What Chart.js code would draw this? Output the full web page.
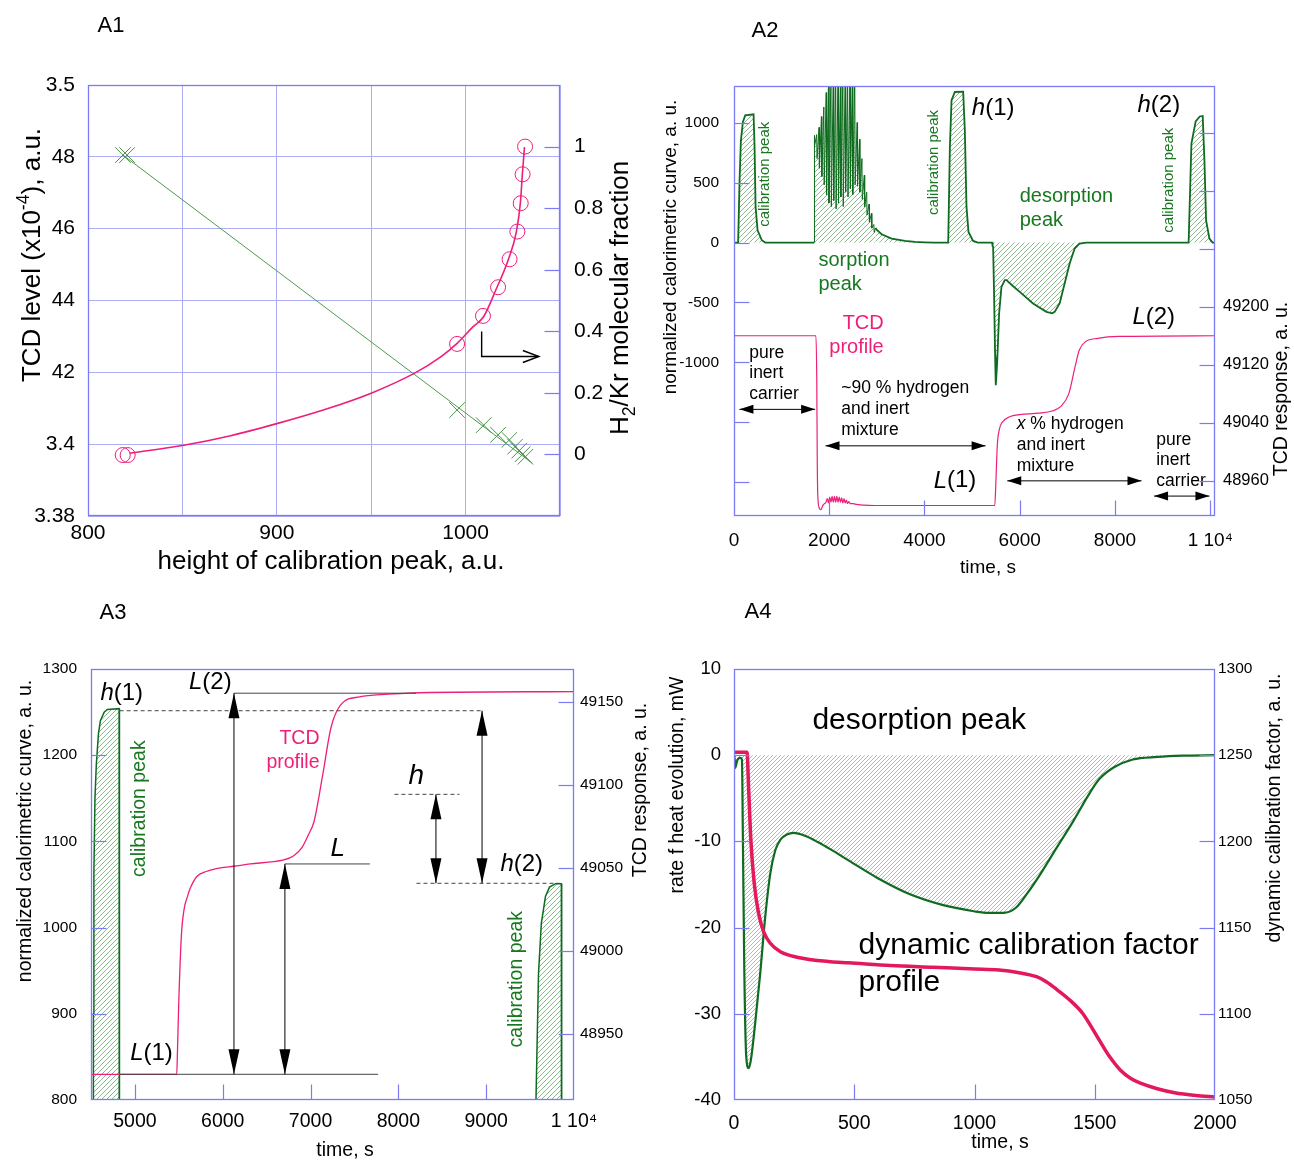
<!DOCTYPE html>
<html>
<head>
<meta charset="utf-8">
<script src="https://cdn.jsdelivr.net/npm/chart.js@4.4.1/dist/chart.umd.min.js"></script>
<style>
  body { margin: 0; background: #fff; width: 1294px; height: 1162px; position: relative; overflow: hidden; }
  canvas { position: absolute; }
</style>
</head>
<body>
<canvas id="a1" width="647" height="581" style="left:0;top:0;width:647px;height:581px"></canvas>
<canvas id="a2" width="647" height="581" style="left:647px;top:0;width:647px;height:581px"></canvas>
<canvas id="a3" width="660" height="581" style="left:0;top:581px;width:660px;height:581px"></canvas>
<canvas id="a4" width="647" height="581" style="left:647px;top:581px;width:647px;height:581px"></canvas>
<script>
const FAM = '"Liberation Sans", Arial, sans-serif';
const GREEN = '#0f6b1f';
const GREEN_TXT = '#17781f';
const PINK = '#ee1f78';
const PINK4 = '#e3195c';
const BLUE = '#7b7bf3';
const GRID = '#aeaef6';
const HATCH = 'rgba(40,130,45,0.55)';

// ---------- A1: calibration ----------
const a1PeakHeight = [818.5, 820.7, 995.5, 1009.6, 1017.2, 1023.2, 1026.2, 1028.4, 1030.2, 1031.7];
const a1TcdLevel = [3.4805, 3.4805, 3.4095, 3.4053, 3.4026, 3.4012, 3.3993, 3.3982, 3.3972, 3.3965];
const a1FitLine = [[818.5, 3.4805], [1035.3, 3.3947]];
const a1CircleHeight = [818.4, 821, 995.5, 1009.2, 1017.2, 1023.3, 1027.4, 1029.2, 1030.2, 1031.5];
const a1Fraction = [-0.002, -0.002, 0.359, 0.45, 0.543, 0.634, 0.724, 0.816, 0.91, 1.0];
const a1FractionCurve = [[822, 0.004], [850, 0.029], [875, 0.06], [900, 0.10], [925, 0.145], [950, 0.199],
  [973, 0.264], [987, 0.318], [995.5, 0.361], [1004, 0.415], [1009.6, 0.448], [1016, 0.534],
  [1022.6, 0.632], [1026.9, 0.724], [1029, 0.816], [1030.1, 0.913], [1031.2, 0.998]];
const a1XTicks = [800, 850, 900, 950, 1000, 1050];
const a1XLabels = ['800', '', '900', '', '1000', ''];
const a1LeftTicks = [3.38, 3.40, 3.42, 3.44, 3.46, 3.48, 3.50];
const a1LeftLabels = ['3.38', '3.4', '42', '44', '46', '48', '3.5'];
const a1RightTicks = [0, 0.2, 0.4, 0.6, 0.8, 1];
const a1RightLabels = ['0', '0.2', '0.4', '0.6', '0.8', '1'];

// ---------- A2: full experiment ----------
const a2Calorimetric = [
  [0, 0], [87, 0], [117, 519], [145, 852], [187, 1005], [236, 1061], [411, 1069], [432, 797], [453, 297],
  [495, 102], [585, 19], [655, 0], [1683, 0],
  // sorption peak (spiky signal)
  [1686, 894], [1694, 800], [1736, 900], [1744, 700], [1786, 960], [1794, 620], [1836, 1050], [1844, 550],
  [1886, 1130], [1894, 480], [1936, 1250], [1944, 400], [1986, 1400], [1994, 330], [2036, 1400], [2044, 300],
  [2086, 1400], [2094, 350], [2136, 1400], [2144, 280], [2186, 1400], [2194, 330], [2236, 1400], [2244, 380],
  [2286, 1400], [2294, 300], [2336, 1400], [2344, 420], [2386, 1400], [2394, 380], [2436, 1400], [2444, 450],
  [2486, 1400], [2494, 400], [2536, 1400], [2544, 480], [2586, 1000], [2594, 470], [2636, 860], [2644, 420],
  [2686, 700], [2694, 360], [2736, 561], [2744, 300], [2786, 420], [2794, 230], [2836, 320], [2844, 170],
  [2886, 244], [2894, 120], [2936, 150], [2944, 85], [2970, 120], [3000, 105], [3100, 69],
  [3310, 33], [3590, 13], [3800, 5], [4000, 2], [4200, 0],
  // second calibration peak h(1)
  [4498, 0], [4533, 797], [4568, 1186], [4638, 1255], [4812, 1258], [4847, 936], [4882, 297], [4924, 88],
  [5021, 13], [5120, 0],
  // desorption peak
  [5420, 0], [5430, -30], [5441, -36], [5462, -453], [5483, -953], [5497, -1189], [5525, -1008], [5567, -592],
  [5616, -370], [5686, -314], [5721, -314], [5850, -360], [6000, -411], [6279, -508], [6559, -578], [6680, -590],
  [6733, -578], [6838, -508], [6943, -342], [7048, -175], [7153, -50], [7258, -8], [7399, 0],
  // third calibration peak h(2)
  [9546, 0], [9605, 825], [9694, 1010], [9781, 1051], [9842, 1055], [9878, 685], [9913, 185], [9983, 33],
  [10050, 0], [10100, 0]
];
const a2Tcd = [
  [0, 49160], [1720, 49160], [1738, 49100], [1748, 48990], [1759, 48940], [1790, 48922], [1822, 48919.6],
  [1870, 48926], [1930, 48930], [1960, 48935], [1985, 48929], [2010, 48937], [2035, 48930], [2060, 48938],
  [2085, 48930], [2110, 48938], [2135, 48930], [2160, 48938], [2185, 48930], [2210, 48937], [2235, 48930],
  [2260, 48936], [2285, 48929], [2310, 48935], [2335, 48929], [2360, 48933], [2385, 48928], [2410, 48931],
  [2440, 48928], [2500, 48928], [2577, 48927], [2717, 48926], [2950, 48925.5], [5476, 48925.5],
  [5500, 48960], [5530, 49010], [5570, 49030], [5616, 49039], [5790, 49048], [6000, 49051], [6400, 49053],
  [6681, 49056], [6856, 49062], [7031, 49080], [7161, 49117], [7249, 49140], [7379, 49151.7], [7641, 49156.4],
  [8079, 49159], [10100, 49160]
];
const a2XTicks = [0, 2000, 4000, 6000, 8000, 10000];
const a2XLabels = ['0', '2000', '4000', '6000', '8000', '1 10\u2074'];
const a2LeftTicks = [-1000, -500, 0, 500, 1000];
const a2LeftLabels = ['-1000', '-500', '0', '500', '1000'];
const a2RightTicks = [48960, 49040, 49120, 49200];
const a2RightLabels = ['48960', '49040', '49120', '49200'];

// ---------- A3: zoom on desorption ----------
const a3CalPeak1 = [[4522, 0], [4528, 900], [4533, 1063], [4545, 1150], [4561, 1190], [4585, 1225], [4607, 1240],
  [4650, 1250], [4686, 1253], [4820, 1254], [4824, 0]];
const a3CalPeak2 = [[9560, 0], [9567, 800], [9596, 947], [9628, 1005], [9675, 1036], [9721, 1047], [9791, 1051],
  [9856, 1051], [9860, 0]];
const a3Tcd = [
  [4500, 48925.5], [5476, 48925.5], [5485, 48940], [5500, 48970], [5530, 49010], [5560, 49025], [5600, 49033],
  [5632, 49038], [5708, 49045], [5822, 49048], [5974, 49050], [6125, 49051], [6315, 49052.4], [6543, 49053.6],
  [6695, 49054.8], [6809, 49057.4], [6904, 49062.4], [6980, 49070.5], [7040, 49078], [7140, 49106.6],
  [7233, 49134.7], [7350, 49148.8], [7559, 49153.2], [7885, 49154.8], [8112, 49155.5], [10000, 49156.4]
];
const a3XTicks = [5000, 6000, 7000, 8000, 9000, 10000];
const a3XLabels = ['5000', '6000', '7000', '8000', '9000', '1 10\u2074'];
const a3LeftTicks = [800, 900, 1000, 1100, 1200, 1300];
const a3LeftLabels = ['800', '900', '1000', '1100', '1200', '1300'];
const a3RightTicks = [48950, 49000, 49050, 49100, 49150];
const a3RightLabels = ['48950', '49000', '49050', '49100', '49150'];
const a3Levels = { L1: 48925.5, L: 49052.4, L2: 49155.4, h1: 1251.6, h: 1154.6, h2: 1051.4 };

// ---------- A4: dynamic calibration ----------
const a4Heat = [
  [0, 0], [3, -0.5], [5, -1.5], [10, -1.0], [15, -0.5], [26, -0.3], [33, -0.5], [37, -9.8], [43, -25.3],
  [51, -35], [61, -36.3], [70, -35.4], [88, -31.1], [109, -25.3], [130, -18.7], [151, -13.7], [172, -11],
  [193, -9.8], [220, -9.2], [248, -9.0], [300, -9.4], [350, -10.1], [400, -10.9], [476, -12.2], [600, -14.3],
  [737, -16.2], [870, -17.4], [997, -18.1], [1060, -18.3], [1120, -18.3], [1172, -17.7], [1220, -16],
  [1276, -13.7], [1340, -10.8], [1414, -7.5], [1470, -4.8], [1518, -2.8], [1580, -1.4], [1658, -0.5],
  [1760, -0.2], [1866, -0.05], [2000, 0]
];
const a4Factor = [
  [0, 1251.7], [54, 1251.7], [61, 1230], [70, 1201], [84, 1175.8], [102, 1158.4], [123, 1147.7], [151, 1140.9],
  [193, 1136], [262, 1132.8], [401, 1130.2], [476, 1129.6], [650, 1128], [825, 1127], [1000, 1126],
  [1102, 1125.4], [1180, 1124], [1258, 1121.5], [1300, 1118.5], [1345, 1113.8], [1400, 1107.5], [1450, 1100.2],
  [1519, 1084.7], [1560, 1075.5], [1607, 1067.3], [1650, 1062.5], [1693, 1059.6], [1760, 1056.5],
  [1832, 1054.2], [1920, 1052.6], [2000, 1051.7]
];
const a4XTicks = [0, 500, 1000, 1500, 2000];
const a4XLabels = ['0', '500', '1000', '1500', '2000'];
const a4LeftTicks = [-40, -30, -20, -10, 0, 10];
const a4LeftLabels = ['-40', '-30', '-20', '-10', '0', '10'];
const a4RightTicks = [1050, 1100, 1150, 1200, 1250, 1300];
const a4RightLabels = ['1050', '1100', '1150', '1200', '1250', '1300'];

// ---------- helpers ----------
const xy = arr => arr.map(([x, y]) => ({ x, y }));
const zip = (xs, ys) => xs.map((x, i) => ({ x, y: ys[i] }));

function hatch(id, gap, color) {
  const c = document.createElement('canvas');
  c.width = gap; c.height = gap;
  const g = c.getContext('2d');
  g.strokeStyle = color; g.lineWidth = 1;
  g.beginPath();
  g.moveTo(0, gap); g.lineTo(gap, 0);
  g.moveTo(-gap / 2, gap / 2); g.lineTo(gap / 2, -gap / 2);
  g.moveTo(gap / 2, gap * 1.5); g.lineTo(gap * 1.5, gap / 2);
  g.stroke();
  return document.getElementById(id).getContext('2d').createPattern(c, 'repeat');
}

// text made of runs: [text, style] with style '', 'i', 'sup', 'sub'
function rich(ctx, text, x, y, size, color, align, rot) {
  const segs = typeof text === 'string' ? [[text, '']] : text;
  ctx.save();
  ctx.translate(x, y);
  if (rot) ctx.rotate(rot * Math.PI / 180);
  ctx.fillStyle = color || '#000';
  ctx.textBaseline = 'middle';
  ctx.textAlign = 'left';
  const parts = segs.map(([t, st]) => {
    const small = st === 'sup' || st === 'sub';
    const f = (st === 'i' ? 'italic ' : '') + (small ? size * 0.68 : size) + 'px ' + FAM;
    ctx.font = f;
    return { t, f, w: ctx.measureText(t).width, dy: st === 'sup' ? -size * 0.36 : st === 'sub' ? size * 0.34 : 0 };
  });
  const total = parts.reduce((s, p) => s + p.w, 0);
  let cx = align === 'left' ? 0 : align === 'right' ? -total : -total / 2;
  parts.forEach(p => { ctx.font = p.f; ctx.fillText(p.t, cx, p.dy); cx += p.w; });
  ctx.restore();
}

function head(ctx, x, y, ang, len, hw) {
  const c = Math.cos(ang), s = Math.sin(ang);
  ctx.beginPath();
  ctx.moveTo(x, y);
  ctx.lineTo(x - len * c + hw * s, y - len * s - hw * c);
  ctx.lineTo(x - len * c - hw * s, y - len * s + hw * c);
  ctx.closePath();
  ctx.fill();
}

function makeDecor(spec) {
  return {
    id: 'decor',
    afterDatasetsDraw(chart) {
      const ctx = chart.ctx, sc = chart.scales;
      const px = (p, ax) => [sc.x.getPixelForValue(p[0]), sc[ax || 'y'].getPixelForValue(p[1])];
      ctx.save();
      (spec.lines || []).forEach(l => {
        ctx.strokeStyle = l.color || '#444';
        ctx.lineWidth = l.width || 1;
        ctx.setLineDash(l.dash || []);
        ctx.beginPath();
        const p = l.pts.map(q => px(q, l.ax));
        p.forEach(([x, y], i) => i ? ctx.lineTo(x, y) : ctx.moveTo(x, y));
        ctx.stroke();
        ctx.setLineDash([]);
        if (l.chevron) {
          const [x1, y1] = p[p.length - 2], [x2, y2] = p[p.length - 1];
          const a = Math.atan2(y2 - y1, x2 - x1);
          ctx.beginPath();
          ctx.moveTo(x2 - 16 * Math.cos(a) + 6 * Math.sin(a), y2 - 16 * Math.sin(a) - 6 * Math.cos(a));
          ctx.lineTo(x2, y2);
          ctx.lineTo(x2 - 16 * Math.cos(a) - 6 * Math.sin(a), y2 - 16 * Math.sin(a) + 6 * Math.cos(a));
          ctx.stroke();
        }
      });
      (spec.arrows || []).forEach(a => {
        const [x1, y1] = px(a.from, a.ax), [x2, y2] = px(a.to, a.ax);
        ctx.strokeStyle = '#000'; ctx.fillStyle = '#000'; ctx.lineWidth = 1;
        ctx.beginPath(); ctx.moveTo(x1, y1); ctx.lineTo(x2, y2); ctx.stroke();
        const ang = Math.atan2(y2 - y1, x2 - x1);
        head(ctx, x2, y2, ang, a.len, a.hw);
        head(ctx, x1, y1, ang + Math.PI, a.len, a.hw);
      });
      (spec.notes || []).forEach(n => {
        const [x, y] = px(n.at, n.ax);
        rich(ctx, n.text, x, y, n.size, n.color, n.align, n.rot);
      });
      ctx.restore();
    },
    afterDraw(chart) {
      const ctx = chart.ctx, a = chart.chartArea, sc = chart.scales;
      const L = Math.round(a.left) + 0.5, T = Math.round(a.top) + 0.5;
      const R = Math.round(a.right) - 0.5, B = Math.round(a.bottom) - 0.5;
      ctx.save();
      ctx.strokeStyle = BLUE;
      ctx.lineWidth = 1.3;
      ctx.strokeRect(L, T, R - L, B - T);
      ctx.lineWidth = 1.2;
      (spec.inTicks || []).forEach(t => {
        const s = sc[t.ax];
        t.vals.forEach(v => {
          const p = Math.round(s.getPixelForValue(v)) + 0.5;
          ctx.beginPath();
          if (t.side === 'left') { ctx.moveTo(L, p); ctx.lineTo(L + 15, p); }
          else if (t.side === 'right') { ctx.moveTo(R - 15, p); ctx.lineTo(R, p); }
          else { ctx.moveTo(p, B); ctx.lineTo(p, B - 15); }
          ctx.stroke();
        });
      });
      (spec.titles || []).forEach(t => rich(ctx, t.text, t.x, t.y, t.size, t.color, 'center', t.rot));
      ctx.restore();
    }
  };
}

function axis(o) {
  const horiz = o.pos === 'bottom';
  return {
    type: 'linear', position: o.pos, min: o.min, max: o.max, bounds: 'data',
    afterBuildTicks: s => { s.ticks = o.vals.map(v => ({ value: v })); },
    afterFit: s => {
      if (horiz) { s.height = o.fixed; s.paddingLeft = 0; s.paddingRight = 0; }
      else { s.width = o.fixed; s.paddingTop = 0; s.paddingBottom = 0; }
    },
    ticks: {
      autoSkip: false, maxRotation: 0, minRotation: 0, padding: o.pad, color: '#000',
      font: { size: o.size, family: FAM },
      callback: (v, i) => o.labels[i]
    },
    grid: o.grid ? { color: o.grid, lineWidth: 1, drawTicks: false } : { display: false, drawTicks: false },
    border: { display: false }
  };
}

function build(id, top, scales, datasets, spec) {
  return new Chart(document.getElementById(id), {
    type: 'scatter',
    data: { datasets },
    options: {
      responsive: false, animation: false, devicePixelRatio: 1,
      layout: { padding: { top, left: 0, right: 0, bottom: 0 } },
      plugins: { legend: { display: false }, tooltip: { enabled: false } },
      scales
    },
    plugins: [makeDecor(spec)]
  });
}

const line = (data, axisId, color, width, extra) => Object.assign({
  data, yAxisID: axisId, showLine: true, pointRadius: 0, borderColor: color, borderWidth: width,
  backgroundColor: 'transparent', fill: false
}, extra || {});

// ---------- A1 ----------
build('a1', 85, {
  x: axis({ pos: 'bottom', min: 800, max: 1050, vals: a1XTicks, labels: a1XLabels, size: 21, pad: 5, fixed: 65, grid: GRID }),
  y: axis({ pos: 'left', min: 3.38, max: 3.50, vals: a1LeftTicks, labels: a1LeftLabels, size: 21, pad: 13, fixed: 88, grid: GRID }),
  y2: axis({ pos: 'right', min: -0.2, max: 1.2, vals: a1RightTicks, labels: a1RightLabels, size: 21, pad: 14, fixed: 87 })
}, [
  line(xy(a1FractionCurve), 'y2', PINK, 1.6, { cubicInterpolationMode: 'monotone' }),
  { data: zip(a1CircleHeight, a1Fraction), yAxisID: 'y2', showLine: false, pointStyle: 'circle', pointRadius: 7.5,
    borderColor: PINK, borderWidth: 1, backgroundColor: 'transparent' },
  line(xy(a1FitLine), 'y', '#4f994f', 1),
  { data: zip(a1PeakHeight, a1TcdLevel), yAxisID: 'y', showLine: false, pointStyle: 'crossRot', pointRadius: 11,
    borderColor: '#4a934a', borderWidth: 1, backgroundColor: 'transparent' }
], {
  inTicks: [{ ax: 'y2', side: 'right', vals: a1RightTicks }],
  lines: [{ ax: 'y2', pts: [[1008.5, 0.399], [1008.5, 0.318], [1038.8, 0.318]], color: '#000', width: 1.4, chevron: true }],
  titles: [
    { text: 'A1', x: 111, y: 26, size: 22 },
    { text: [['TCD level (x10', ''], ['-4', 'sup'], ['), a.u.', '']], x: 33, y: 255, size: 26, rot: -90 },
    { text: [['H', ''], ['2', 'sub'], ['/Kr molecular fraction', '']], x: 621, y: 298, size: 26, rot: -90 },
    { text: 'height of calibration peak, a.u.', x: 331, y: 562, size: 26 }
  ]
});

// ---------- A2 ----------
const inSorption = c => c.p0.parsed.x > 1680 && c.p1.parsed.x < 3000;
build('a2', 86, {
  x: axis({ pos: 'bottom', min: 0, max: 10100, vals: a2XTicks, labels: a2XLabels, size: 19, pad: 13, fixed: 65 }),
  y: axis({ pos: 'left', min: -2280, max: 1305, vals: a2LeftTicks, labels: a2LeftLabels, size: 15.5, pad: 15, fixed: 87 }),
  y2: axis({ pos: 'right', min: 48911, max: 49505, vals: a2RightTicks, labels: a2RightLabels, size: 16.5, pad: 8, fixed: 79 })
}, [
  line(xy(a2Tcd), 'y2', PINK, 1.2, { cubicInterpolationMode: 'monotone' }),
  line(xy(a2Calorimetric), 'y', GREEN, 1.8, {
    fill: { value: 0 }, backgroundColor: hatch('a2', 5, HATCH),
    segment: { borderWidth: c => inSorption(c) ? 1 : 1.8 }
  })
], {
  inTicks: [
    { ax: 'y', side: 'left', vals: [1000, 500, 0, -500, -1000, -1500, -2000] },
    { ax: 'y2', side: 'right', vals: [48960, 49040, 49120, 49200, 49280, 49360, 49440] },
    { ax: 'x', side: 'bottom', vals: [2000, 4000, 6000, 8000, 10000] }
  ],
  arrows: [
    { ax: 'y', from: [114, -1391], to: [1703, -1391], len: 14, hw: 4.5 },
    { ax: 'y', from: [1921, -1695], to: [5283, -1695], len: 14, hw: 4.5 },
    { ax: 'y', from: [5738, -1987], to: [8557, -1987], len: 14, hw: 4.5 },
    { ax: 'y', from: [8821, -2114], to: [9983, -2114], len: 14, hw: 4.5 }
  ],
  notes: [
    { at: [655, 569], text: 'calibration peak', size: 15, color: GREEN_TXT, rot: -90 },
    { at: [4192, 667], text: 'calibration peak', size: 15, color: GREEN_TXT, rot: -90 },
    { at: [9123, 519], text: 'calibration peak', size: 15, color: GREEN_TXT, rot: -90 },
    { at: [1772, -148], text: 'sorption', size: 20, color: GREEN_TXT, align: 'left' },
    { at: [1772, -348], text: 'peak', size: 20, color: GREEN_TXT, align: 'left' },
    { at: [6000, 380], text: 'desorption', size: 20, color: GREEN_TXT, align: 'left' },
    { at: [6000, 186], text: 'peak', size: 20, color: GREEN_TXT, align: 'left' },
    { at: [4994, 1116], text: [['h', 'i'], ['(1)', '']], size: 24, align: 'left' },
    { at: [8473, 1144], text: [['h', 'i'], ['(2)', '']], size: 24, align: 'left' },
    { at: [3144, -675], text: 'TCD', size: 20, color: PINK, align: 'right' },
    { at: [3144, -875], text: 'profile', size: 20, color: PINK, align: 'right' },
    { at: [320, -925], text: 'pure', size: 17.5, align: 'left' },
    { at: [320, -1092], text: 'inert', size: 17.5, align: 'left' },
    { at: [320, -1267], text: 'carrier', size: 17.5, align: 'left' },
    { at: [2253, -1217], text: '~90 % hydrogen', size: 17.5, align: 'left' },
    { at: [2253, -1392], text: 'and inert', size: 17.5, align: 'left' },
    { at: [2253, -1567], text: 'mixture', size: 17.5, align: 'left' },
    { at: [4192, -1987], text: [['L', 'i'], ['(1)', '']], size: 24, align: 'left' },
    { at: [8366, -620], text: [['L', 'i'], ['(2)', '']], size: 24, align: 'left' },
    { at: [5937, -1514], text: [['x', 'i'], [' % hydrogen', '']], size: 17.5, align: 'left' },
    { at: [5937, -1689], text: 'and inert', size: 17.5, align: 'left' },
    { at: [5937, -1862], text: 'mixture', size: 17.5, align: 'left' },
    { at: [8865, -1648], text: 'pure', size: 17.5, align: 'left' },
    { at: [8865, -1814], text: 'inert', size: 17.5, align: 'left' },
    { at: [8865, -1987], text: 'carrier', size: 17.5, align: 'left' }
  ],
  titles: [
    { text: 'A2', x: 118, y: 31, size: 22 },
    { text: 'normalized calorimetric curve, a. u.', x: 24, y: 247, size: 19, rot: -90 },
    { text: 'TCD response, a. u.', x: 635, y: 389, size: 19.5, rot: -90 },
    { text: 'time, s', x: 341, y: 568, size: 19 }
  ]
});

// ---------- A3 ----------
build('a3', 88, {
  x: axis({ pos: 'bottom', min: 4500, max: 10000, vals: a3XTicks, labels: a3XLabels, size: 19.5, pad: 10, fixed: 62 }),
  y: axis({ pos: 'left', min: 800, max: 1300, vals: a3LeftTicks, labels: a3LeftLabels, size: 15.5, pad: 14, fixed: 91 }),
  y2: axis({ pos: 'right', min: 48910, max: 49170, vals: a3RightTicks, labels: a3RightLabels, size: 15.5, pad: 6, fixed: 86 })
}, [
  line(xy(a3Tcd), 'y2', PINK, 1.3, { cubicInterpolationMode: 'monotone' }),
  line(xy(a3CalPeak1), 'y', GREEN, 1.5, { fill: { value: 0 }, backgroundColor: hatch('a3', 5, HATCH) }),
  line(xy(a3CalPeak2), 'y', GREEN, 1.5, { fill: { value: 0 }, backgroundColor: hatch('a3', 5, HATCH) })
], {
  inTicks: [
    { ax: 'y', side: 'left', vals: [900, 1000, 1100, 1200] },
    { ax: 'y2', side: 'right', vals: a3RightTicks },
    { ax: 'x', side: 'bottom', vals: [5000, 6000, 7000, 8000, 9000] }
  ],
  lines: [
    { ax: 'y2', pts: [[4826, a3Levels.L1], [7770, a3Levels.L1]], color: '#444' },
    { ax: 'y2', pts: [[6708, a3Levels.L], [7675, a3Levels.L]], color: '#444' },
    { ax: 'y2', pts: [[6128, a3Levels.L2], [8200, a3Levels.L2]], color: '#444' },
    { ax: 'y', pts: [[4826, a3Levels.h1], [8953, a3Levels.h1]], color: '#444', dash: [4, 3] },
    { ax: 'y', pts: [[7955, a3Levels.h], [8696, a3Levels.h]], color: '#444', dash: [4, 3] },
    { ax: 'y', pts: [[8206, a3Levels.h2], [9835, a3Levels.h2]], color: '#444', dash: [4, 3] }
  ],
  arrows: [
    { ax: 'y2', from: [6128, a3Levels.L2], to: [6128, a3Levels.L1], len: 25, hw: 5.5 },
    { ax: 'y2', from: [6708, a3Levels.L], to: [6708, a3Levels.L1], len: 25, hw: 5.5 },
    { ax: 'y', from: [8953, a3Levels.h1], to: [8953, a3Levels.h2], len: 25, hw: 5.5 },
    { ax: 'y', from: [8428, a3Levels.h], to: [8428, a3Levels.h2], len: 25, hw: 5.5 }
  ],
  notes: [
    { at: [4607, 1272], text: [['h', 'i'], ['(1)', '']], size: 24, align: 'left' },
    { at: [5616, 1284], text: [['L', 'i'], ['(2)', '']], size: 24, align: 'left' },
    { at: [7102, 1219], text: 'TCD', size: 19.5, color: PINK, align: 'right' },
    { at: [7102, 1191], text: 'profile', size: 19.5, color: PINK, align: 'right' },
    { at: [7227, 1092], text: [['L', 'i']], size: 26, align: 'left' },
    { at: [8116, 1176], text: [['h', 'i']], size: 28, align: 'left' },
    { at: [9162, 1073], text: [['h', 'i'], ['(2)', '']], size: 24, align: 'left' },
    { at: [4946, 854], text: [['L', 'i'], ['(1)', '']], size: 24, align: 'left' },
    { at: [5049, 1138], text: 'calibration peak', size: 19.5, color: GREEN_TXT, rot: -90 },
    { at: [9349, 940], text: 'calibration peak', size: 19.5, color: GREEN_TXT, rot: -90 }
  ],
  titles: [
    { text: 'A3', x: 113, y: 32, size: 22 },
    { text: 'normalized calorimetric curve, a. u.', x: 26, y: 250, size: 19.5, rot: -90 },
    { text: 'TCD response, a. u.', x: 641, y: 209, size: 19.5, rot: -90 },
    { text: 'time, s', x: 345, y: 570, size: 19.5 }
  ]
});

// ---------- A4 ----------
build('a4', 88, {
  x: axis({ pos: 'bottom', min: 0, max: 2000, vals: a4XTicks, labels: a4XLabels, size: 19.5, pad: 12, fixed: 62 }),
  y: axis({ pos: 'left', min: -40, max: 10, vals: a4LeftTicks, labels: a4LeftLabels, size: 18.5, pad: 13, fixed: 87 }),
  y2: axis({ pos: 'right', min: 1050, max: 1300, vals: a4RightTicks, labels: a4RightLabels, size: 15.5, pad: 3, fixed: 79 })
}, [
  line(xy(a4Factor), 'y2', PINK4, 3.5, { cubicInterpolationMode: 'monotone' }),
  line(xy(a4Heat), 'y', GREEN, 2.2, {
    fill: { value: 0 }, backgroundColor: hatch('a4', 4, 'rgba(45,135,50,0.45)'), cubicInterpolationMode: 'monotone'
  })
], {
  inTicks: [
    { ax: 'y', side: 'left', vals: [-30, -20, -10, 0] },
    { ax: 'y2', side: 'right', vals: [1100, 1150, 1200, 1250] },
    { ax: 'x', side: 'bottom', vals: [500, 1000, 1500] }
  ],
  notes: [
    { at: [326, 4.0], text: 'desorption peak', size: 30, align: 'left' },
    { at: [518, -22.1], text: 'dynamic calibration factor', size: 30, align: 'left' },
    { at: [518, -26.4], text: 'profile', size: 30, align: 'left' }
  ],
  titles: [
    { text: 'A4', x: 111, y: 31, size: 22 },
    { text: 'rate f heat evolution, mW', x: 31, y: 204, size: 19.5, rot: -90 },
    { text: 'dynamic calibration factor, a. u.', x: 628, y: 227, size: 19.5, rot: -90 },
    { text: 'time, s', x: 353, y: 562, size: 19.5 }
  ]
});
</script>
</body>
</html>
